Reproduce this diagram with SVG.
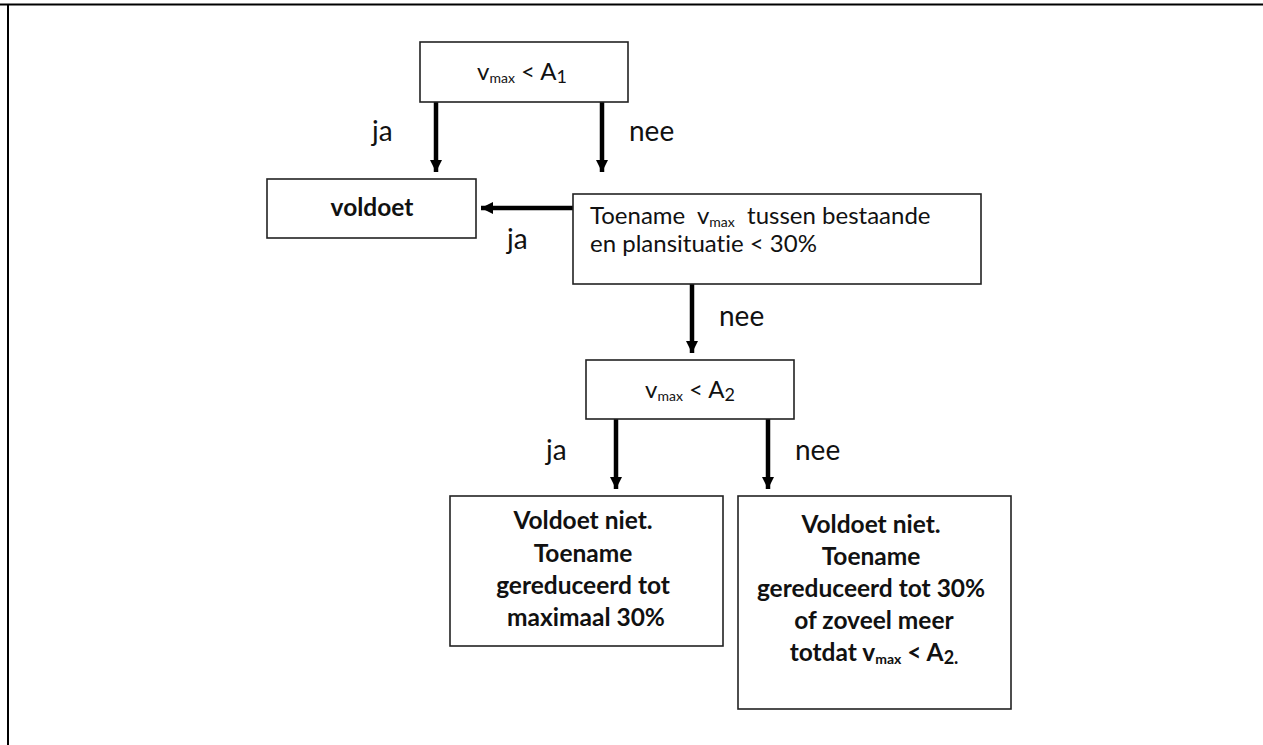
<svg xmlns="http://www.w3.org/2000/svg" width="1263" height="745" viewBox="0 0 1263 745">
<defs>
<marker id="ah" markerUnits="userSpaceOnUse" markerWidth="14" markerHeight="14" refX="12" refY="6" orient="auto">
<path d="M0,0 L12,6 L0,12 Z" fill="#000"/>
</marker>
<style>
.box{fill:#fff;stroke:#222;stroke-width:1.6}
.t{font-family:Lato,"Open Sans","Liberation Sans",sans-serif;font-size:24px;fill:#111;font-variant-ligatures:none}
.b{font-weight:bold;font-size:24.5px}
.lbl{font-family:Lato,"Open Sans","Liberation Sans",sans-serif;font-size:28px;fill:#111}
.c{stroke:#000;stroke-width:4.5;fill:none;marker-end:url(#ah)}
.sub{font-size:14px}
.dig{font-size:18px}
</style>
</defs>
<rect width="1263" height="745" fill="#fff"/>
<g id="frame">
<line x1="0" y1="4.5" x2="1263" y2="4.5" stroke="#000" stroke-width="2"/>
<line x1="8" y1="4" x2="8" y2="745" stroke="#000" stroke-width="2"/>
</g>
<g id="connectors">
<line class="c" x1="436" y1="102" x2="436" y2="172"/>
<line class="c" x1="602" y1="102" x2="602" y2="172"/>
<line class="c" x1="573" y1="208" x2="481" y2="208"/>
<line class="c" x1="692" y1="284" x2="692" y2="353"/>
<line class="c" x1="616" y1="419" x2="616" y2="489"/>
<line class="c" x1="768" y1="419" x2="768" y2="489"/>
<text class="lbl" x="372" y="141">ja</text>
<text class="lbl" x="629" y="141">nee</text>
<text class="lbl" x="507" y="249">ja</text>
<text class="lbl" x="719" y="326">nee</text>
<text class="lbl" x="546" y="460">ja</text>
<text class="lbl" x="795" y="460">nee</text>
</g>
<g id="n1">
<rect class="box" x="420" y="42" width="208" height="60"/>
<text class="t" x="522" y="80" text-anchor="middle">v<tspan class="sub" dy="3">max</tspan><tspan dy="-3"> &lt; A</tspan><tspan class="dig" dy="3">1</tspan></text>
</g>
<g id="n2">
<rect class="box" x="267" y="179" width="209" height="59"/>
<text class="t b" x="372" y="216" text-anchor="middle">voldoet</text>
</g>
<g id="n3">
<rect class="box" x="573" y="194" width="408" height="90"/>
<text class="t" x="590" y="224" xml:space="preserve">Toename  v<tspan class="sub" dy="3">max</tspan><tspan dy="-3">  tussen bestaande</tspan></text>
<text class="t" x="590" y="252">en plansituatie &lt; 30%</text>
</g>
<g id="n4">
<rect class="box" x="586" y="360" width="208" height="59"/>
<text class="t" x="690" y="398" text-anchor="middle">v<tspan class="sub" dy="3">max</tspan><tspan dy="-3"> &lt; A</tspan><tspan class="dig" dy="3">2</tspan></text>
</g>
<g id="n5">
<rect class="box" x="450" y="496" width="273" height="150"/>
<text class="t b" text-anchor="middle">
<tspan x="586" y="529">Voldoet niet.</tspan>
<tspan x="586" y="562">Toename</tspan>
<tspan x="586" y="594">gereduceerd tot</tspan>
<tspan x="586" y="626">maximaal 30%</tspan>
</text>
</g>
<g id="n6">
<rect class="box" x="738" y="496" width="273" height="213"/>
<text class="t b" text-anchor="middle">
<tspan x="874" y="533">Voldoet niet.</tspan>
<tspan x="874" y="565">Toename</tspan>
<tspan x="874" y="597">gereduceerd tot 30%</tspan>
<tspan x="874" y="629">of zoveel meer</tspan>
</text>
<text class="t b" x="874" y="661" text-anchor="middle">totdat v<tspan class="sub" dy="3">max</tspan><tspan dy="-3"> &lt; A</tspan><tspan class="dig" dy="3">2.</tspan></text>
</g>
</svg>
